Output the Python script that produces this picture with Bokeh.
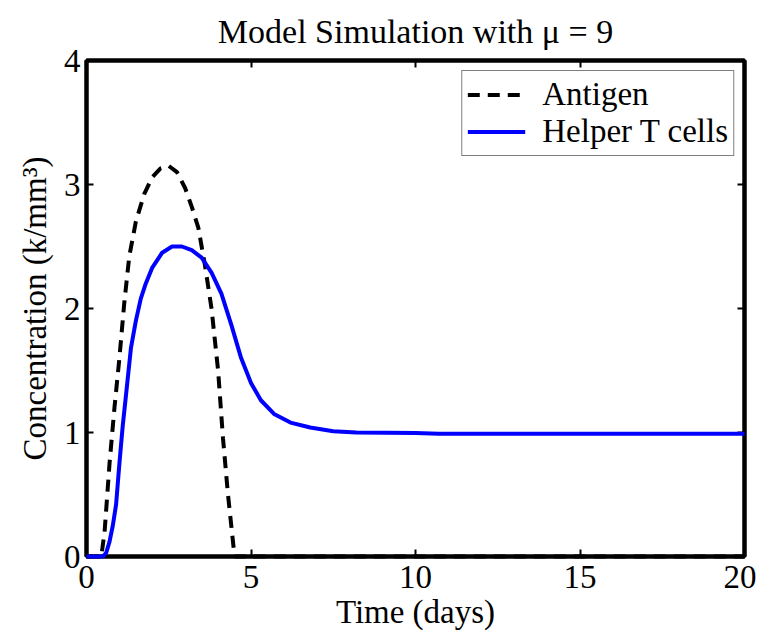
from bokeh.plotting import figure
from bokeh.models import Range1d, LinearAxis, FixedTicker, Legend, LegendItem, Title
from bokeh.embed import file_html
from bokeh.resources import INLINE

# ---- data ----
antigen_t = [0, 0.45, 0.55, 0.7, 0.85, 1.0, 1.15, 1.3, 1.5, 1.75, 2.0, 2.25, 2.5,
             2.75, 3.0, 3.2, 3.4, 3.6, 3.8, 4.0, 4.15, 4.3, 4.42, 4.5, 20]
antigen_v = [0, 0, 0.2, 0.75, 1.2, 1.6, 2.05, 2.42, 2.7, 2.92, 3.06, 3.13, 3.15,
             3.1, 2.97, 2.82, 2.65, 2.35, 2.0, 1.5, 0.95, 0.5, 0.2, 0, 0]

helper_t = [0, 0.5, 0.6, 0.7, 0.8, 0.9, 1.0, 1.1, 1.2, 1.35, 1.5, 1.65, 1.8, 2.0,
            2.3, 2.6, 2.9, 3.2, 3.5, 3.8, 4.1, 4.4, 4.7, 5.0, 5.3, 5.7, 6.2, 6.8,
            7.5, 8.2, 10.0, 10.7, 20]
helper_v = [0, 0, 0.03, 0.12, 0.25, 0.42, 0.75, 1.05, 1.3, 1.68, 1.9, 2.08, 2.2, 2.33,
            2.45, 2.5, 2.5, 2.47, 2.41, 2.29, 2.12, 1.87, 1.6, 1.4, 1.26, 1.15, 1.08, 1.04,
            1.01, 1.0, 0.995, 0.99, 0.99]

x_ticks = [0, 5, 10, 15, 20]
y_ticks = [0, 1, 2, 3, 4]

FONT = "Liberation Serif"
FS = "33px"

p = figure(width=756, height=634, output_backend="svg", toolbar_location=None,
           x_range=Range1d(0, 20), y_range=Range1d(0, 4),
           min_border_left=86, min_border_right=12, min_border_top=56,
           min_border_bottom=78, x_axis_location=None, y_axis_location=None)
p.title = None
p.xgrid.visible = False
p.ygrid.visible = False
p.outline_line_color = "black"
p.outline_line_width = 4

def style(ax, ticks, labels=True):
    ax.ticker = FixedTicker(ticks=ticks)
    ax.axis_line_color = "black"
    ax.axis_line_width = 4
    ax.major_tick_in = 7
    ax.major_tick_out = 0
    ax.major_tick_line_width = 2
    ax.major_tick_line_color = "black"
    ax.minor_tick_line_color = None
    ax.major_label_text_font = FONT
    ax.major_label_text_color = "black"
    if labels:
        ax.major_label_text_font_size = FS
    else:
        ax.major_label_text_font_size = "1px"
        ax.major_label_text_color = None
        ax.major_label_standoff = 0
    ax.axis_label_text_font = FONT
    ax.axis_label_text_font_size = FS
    ax.axis_label_text_font_style = "normal"
    ax.axis_label_text_color = "black"

xb = LinearAxis(axis_label="Time (days)")
xt = LinearAxis()
yl = LinearAxis(axis_label="Concentration (k/mm\u00b3)")
yr = LinearAxis()
style(xb, x_ticks)
style(xt, x_ticks, False)
style(yl, y_ticks)
style(yr, y_ticks, False)
xb.major_label_standoff = 9
xb.axis_label_standoff = 3
yl.major_label_standoff = 6
yl.axis_label_standoff = 8
p.add_layout(xb, "below")
p.add_layout(xt, "above")
p.add_layout(yl, "left")
p.add_layout(yr, "right")
p.add_layout(Title(text="Model Simulation with \u03bc = 9", text_font=FONT,
                   text_font_size="34px", text_font_style="normal", align="center",
                   text_color="black", standoff=21), "above")

r1 = p.line(antigen_t, antigen_v, line_color="black", line_width=4, line_dash="12 8",
            level="overlay")
r2 = p.line(helper_t, helper_v, line_color="#0000ff", line_width=4, level="overlay")

legend = Legend(items=[LegendItem(label="Antigen", renderers=[r1]),
                       LegendItem(label="Helper T cells", renderers=[r2])],
                location="top_right", margin=10, padding=5, spacing=0,
                glyph_width=58, glyph_height=33, label_height=33, label_standoff=17,
                label_text_font=FONT, label_text_font_size=FS, label_text_color="black",
                border_line_color="black", border_line_width=1,
                background_fill_color="white", background_fill_alpha=1)
p.add_layout(legend, "center")

open("out.html", "w").write(file_html(p, INLINE))
